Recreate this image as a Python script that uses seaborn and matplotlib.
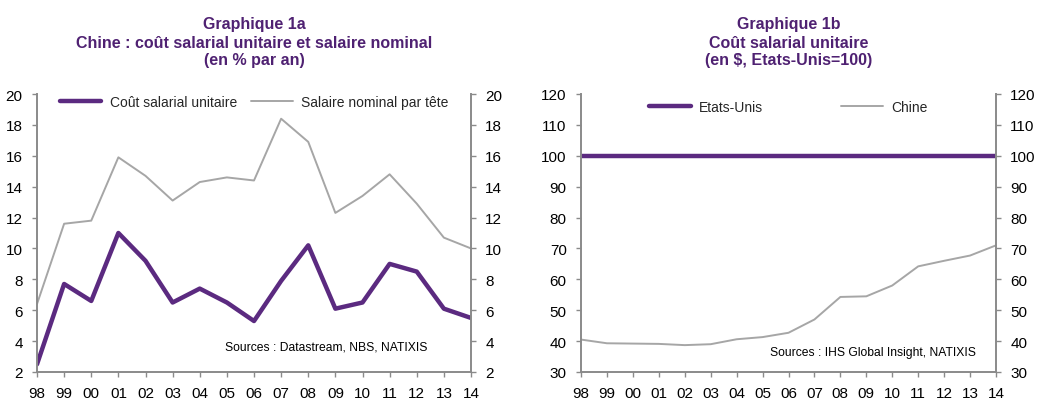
import matplotlib
matplotlib.use("Agg")
import matplotlib.pyplot as plt
from matplotlib.lines import Line2D
import seaborn as sns
import pandas as pd
import numpy as np

years = ["98", "99", "00", "01", "02", "03", "04", "05", "06", "07", "08", "09", "10", "11", "12", "13", "14"]
cout_salarial = [2.5, 7.7, 6.6, 11.0, 9.2, 6.5, 7.4, 6.5, 5.3, 7.9, 10.2, 6.1, 6.5, 9.0, 8.5, 6.1, 5.5]
salaire_nominal = [6.4, 11.6, 11.8, 15.9, 14.7, 13.1, 14.3, 14.6, 14.4, 18.4, 16.9, 12.3, 13.4, 14.8, 12.9, 10.7, 10.0]
etats_unis = [100] * 17
chine = [40.5, 39.3, 39.2, 39.1, 38.7, 39.0, 40.6, 41.3, 42.7, 47.0, 54.3, 54.5, 58.0, 64.2, 66.0, 67.7, 71.0]

PURPLE = "#5B2A80"
TITLE_PURPLE = "#4F2172"
GREY = "#A6A6A6"
SPINE = "#8A8A8A"

sns.set_theme(style="white")
plt.rcParams["font.family"] = ["Liberation Sans", "DejaVu Sans"]

W, H = 1044, 410
fig = plt.figure(figsize=(W / 100, H / 100), dpi=100)
ax1 = fig.add_axes([37 / W, 1 - 373 / H, (471 - 37) / W, (373 - 95) / H])
ax2 = fig.add_axes([581 / W, 1 - 373 / H, (996 - 581) / W, (373 - 95) / H])

x = np.arange(len(years))
df1 = pd.DataFrame({"x": np.concatenate([x, x]),
                    "v": cout_salarial + salaire_nominal,
                    "s": ["Coût salarial unitaire"] * len(x) + ["Salaire nominal par tête"] * len(x)})
df2 = pd.DataFrame({"x": np.concatenate([x, x]),
                    "v": etats_unis + chine,
                    "s": ["Etats-Unis"] * len(x) + ["Chine"] * len(x)})


def style(ax, df, names, ylim, yticks, title, source, src_xy, leg_y, colsp):
    sns.lineplot(data=df, x="x", y="v", hue="s", hue_order=names,
                 palette=[PURPLE, GREY], size="s", sizes={names[0]: 3.2, names[1]: 1.4},
                 size_order=names, ax=ax, legend=False)
    ax.set_xlim(0, len(years) - 1)
    ax.set_ylim(*ylim)
    ax.set_yticks(yticks)
    ax.set_xticks(x)
    ax.set_xticklabels(years)
    ax.set_xlabel("")
    ax.set_ylabel("")
    ax.spines["top"].set_visible(False)
    for s in ["left", "right", "bottom"]:
        ax.spines[s].set_visible(True)
        ax.spines[s].set_color(SPINE)
        ax.spines[s].set_linewidth(1.4)
    ax.tick_params(axis="both", which="both", direction="out", length=3.8, width=1,
                   color=SPINE, labelsize=11, labelcolor="black")
    ax.tick_params(axis="y", left=True, right=True, labelleft=True, labelright=True, pad=6.5)
    ax.tick_params(axis="x", bottom=True, pad=6)
    handles = [Line2D([], [], color=PURPLE, lw=3.2), Line2D([], [], color=GREY, lw=1.4)]
    ax.legend(handles, names, loc="center", bbox_to_anchor=(0.5, leg_y), ncol=2,
              frameon=False, fontsize=10, handlelength=3.0, columnspacing=colsp,
              handletextpad=0.6, borderaxespad=0, borderpad=0)
    ax.text(src_xy[0], src_xy[1], source, transform=ax.transAxes, fontsize=8.7,
            ha="left", va="center", color="black")
    bb = ax.get_position()
    fig.text((bb.x0 + bb.x1) / 2, 1 - 43 / H, title, color=TITLE_PURPLE, fontsize=11.5,
             fontweight="bold", linespacing=1.25, ha="center", va="center")


style(ax1, df1, ["Coût salarial unitaire", "Salaire nominal par tête"], (2, 20),
      np.arange(2, 21, 2),
      "Graphique 1a\nChine : coût salarial unitaire et salaire nominal\n(en % par an)",
      "Sources : Datastream, NBS, NATIXIS", (0.433, 0.09), 1 - (103 - 95) / 278, 1.0)
style(ax2, df2, ["Etats-Unis", "Chine"], (30, 120), np.arange(30, 121, 10),
      "Graphique 1b\nCoût salarial unitaire\n(en $, Etats-Unis=100)",
      "Sources : IHS Global Insight, NATIXIS", (0.455, 0.072), 1 - (108 - 95) / 278, 5.6)

fig.savefig("out.png", dpi=100)
